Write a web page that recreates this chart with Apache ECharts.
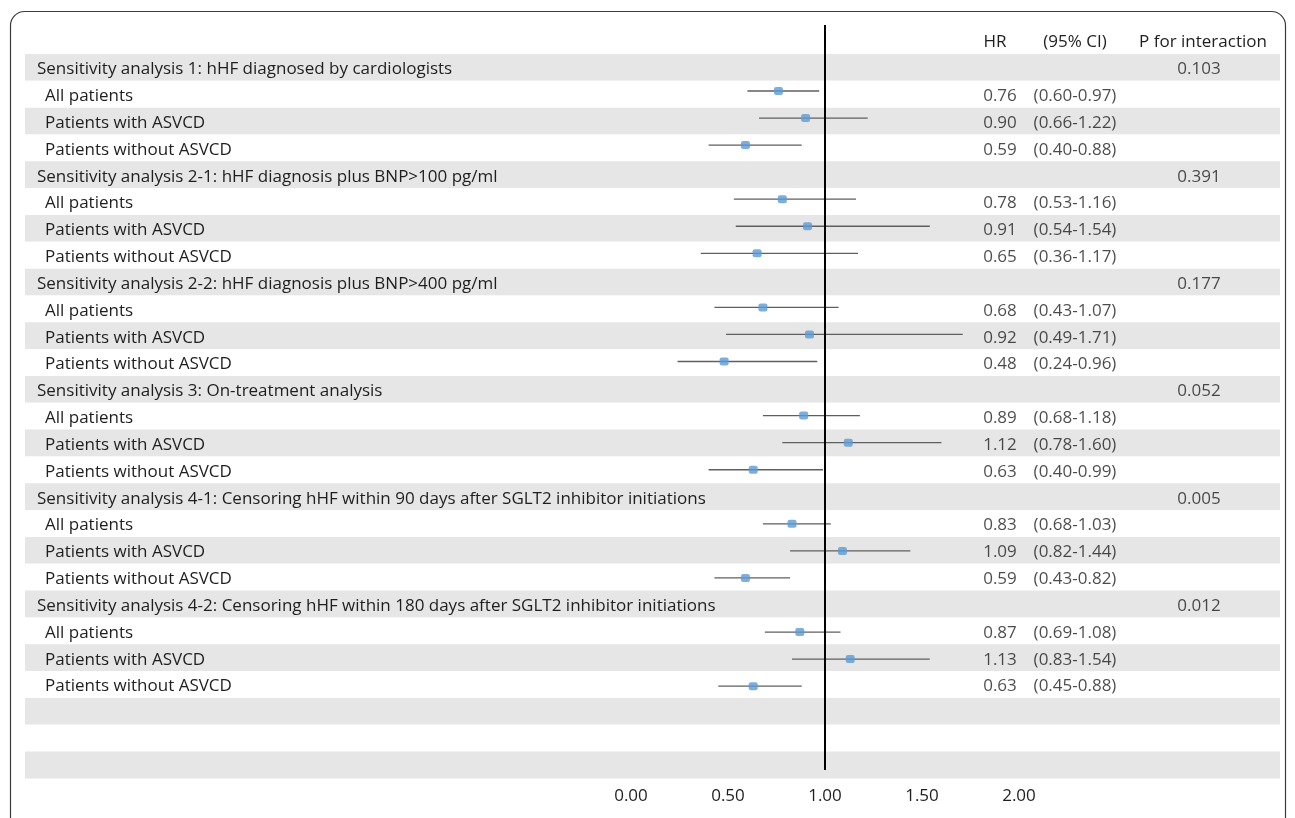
<!DOCTYPE html>
<html>
<head>
<meta charset="utf-8">
<script src="https://cdn.jsdelivr.net/npm/echarts@6/dist/echarts.min.js"></script>
<style>
html, body { margin: 0; padding: 0; background: #fff; }
#forest { width: 1295px; height: 818px; }
</style>
</head>
<body>
<div id="forest"></div>
<script>
// 数据
var groupTitles = [
    'Sensitivity analysis 1: hHF diagnosed by cardiologists',
    'Sensitivity analysis 2-1: hHF diagnosis plus BNP>100 pg/ml',
    'Sensitivity analysis 2-2: hHF diagnosis plus BNP>400 pg/ml',
    'Sensitivity analysis 3: On-treatment analysis',
    'Sensitivity analysis 4-1: Censoring hHF within 90 days after SGLT2 inhibitor initiations',
    'Sensitivity analysis 4-2: Censoring hHF within 180 days after SGLT2 inhibitor initiations'
];
var pInteraction = ['0.103', '0.391', '0.177', '0.052', '0.005', '0.012'];
var subgroups = ['All patients', 'Patients with ASVCD', 'Patients without ASVCD'];
var hrValues = [0.76, 0.90, 0.59, 0.78, 0.91, 0.65, 0.68, 0.92, 0.48, 0.89, 1.12, 0.63, 0.83, 1.09, 0.59, 0.87, 1.13, 0.63];
var ciLow = [0.60, 0.66, 0.40, 0.53, 0.54, 0.36, 0.43, 0.49, 0.24, 0.68, 0.78, 0.40, 0.68, 0.82, 0.43, 0.69, 0.83, 0.45];
var ciHigh = [0.97, 1.22, 0.88, 1.16, 1.54, 1.17, 1.07, 1.71, 0.96, 1.18, 1.60, 0.99, 1.03, 1.44, 0.82, 1.08, 1.54, 0.88];
var headers = ['HR', '(95% CI)', 'P for interaction'];
var emptyRows = 3;
var refValue = 1;

var FONT = 'Open Sans';
var FS = 17;
var TXT = '#1e1e1e';

// 行
var rowLabels = [], rowIsTitle = [];
for (var g = 0; g < groupTitles.length; g++) {
    rowLabels.push(groupTitles[g]); rowIsTitle.push(true);
    for (var s = 0; s < subgroups.length; s++) {
        rowLabels.push(subgroups[s]); rowIsTitle.push(false);
    }
}
for (var e = 0; e < emptyRows; e++) { rowLabels.push(''); rowIsTitle.push(false); }

var hrText = [], ciText = [], pText = [], points = [], bars = [];
for (var k = 0; k < hrValues.length; k++) {
    var row = Math.floor(k / 3) * 4 + 1 + (k % 3);
    hrText.push([1000, row, hrValues[k].toFixed(2)]);
    ciText.push([1075, row, '(' + ciLow[k].toFixed(2) + '-' + ciHigh[k].toFixed(2) + ')']);
    points.push([hrValues[k], row]);
    bars.push([ciLow[k], ciHigh[k], row]);
}
for (var p = 0; p < pInteraction.length; p++) {
    pText.push([1199, p * 4, pInteraction[p]]);
}

function textSeries(data) {
    return {
        type: 'scatter', xAxisIndex: 0, yAxisIndex: 0,
        symbolSize: 0, silent: true, data: data,
        label: {
            show: true, position: 'inside', offset: [0, 2], color: TXT,
            fontFamily: FONT, fontSize: FS,
            formatter: function (p) { return p.data[2]; }
        }
    };
}

function headerText(x, txt) {
    return {
        type: 'text', x: x, y: 42,
        style: { text: txt, textAlign: 'center', textVerticalAlign: 'middle', fill: TXT, font: FS + 'px "' + FONT + '"' }
    };
}

var chart = echarts.init(document.getElementById('forest'));
chart.setOption({
    animation: false,
    grid: [
        { left: 25, width: 1255, top: 54, height: 724.4 },
        { left: 631, width: 388, top: 25, height: 745 }
    ],
    xAxis: [
        { gridIndex: 0, type: 'value', min: 25, max: 1280, show: false },
        {
            gridIndex: 1, type: 'value', min: 0, max: 2, interval: 0.5,
            axisLine: { show: false }, axisTick: { show: false }, splitLine: { show: false },
            axisLabel: {
                margin: 18, color: TXT, fontFamily: FONT, fontSize: FS,
                formatter: function (v) { return v.toFixed(2); }
            }
        }
    ],
    yAxis: [
        {
            gridIndex: 0, type: 'category', inverse: true, data: rowLabels,
            axisLine: { show: false }, axisTick: { show: false }, splitLine: { show: false },
            splitArea: { show: true, interval: 0, areaStyle: { color: ['#e6e6e6', '#ffffff'] } },
            axisLabel: {
                inside: true, margin: 12, align: 'left', interval: 0,
                formatter: function (v, i) { return rowIsTitle[i] ? '{t|' + v + '}' : '{s|' + v + '}'; },
                rich: {
                    t: { color: TXT, fontFamily: FONT, fontSize: FS, padding: [4, 0, 0, 0] },
                    s: { color: TXT, fontFamily: FONT, fontSize: FS, padding: [4, 0, 0, 8] }
                }
            }
        },
        { gridIndex: 1, type: 'value', inverse: true, min: -1.44, max: 26.1, show: false }
    ],
    graphic: [
        {
            type: 'rect', silent: true,
            shape: { x: 10.5, y: 11.5, width: 1275, height: 900, r: 14 },
            style: { fill: 'none', stroke: '#3a3a3a', lineWidth: 1.2 }
        },
        headerText(995, headers[0]),
        headerText(1075, headers[1]),
        headerText(1203, headers[2])
    ],
    series: [
        textSeries(hrText),
        textSeries(ciText),
        textSeries(pText),
        {
            type: 'custom', xAxisIndex: 1, yAxisIndex: 1, silent: true, data: bars,
            renderItem: function (params, api) {
                var a = api.coord([api.value(0), api.value(2)]);
                var b = api.coord([api.value(1), api.value(2)]);
                return {
                    type: 'line',
                    shape: { x1: a[0], y1: a[1], x2: b[0], y2: b[1] },
                    style: { stroke: '#5f5f5f', lineWidth: 1.3 }
                };
            }
        },
        {
            type: 'scatter', xAxisIndex: 1, yAxisIndex: 1, silent: true, data: points,
            symbol: 'roundRect', symbolSize: [9, 8], z: 5,
            itemStyle: { color: '#5b9bd5' },
            markLine: {
                silent: true, symbol: 'none', label: { show: false },
                lineStyle: { color: '#000', width: 2, type: 'solid' },
                data: [{ xAxis: refValue }]
            }
        }
    ]
});
</script>
</body>
</html>
